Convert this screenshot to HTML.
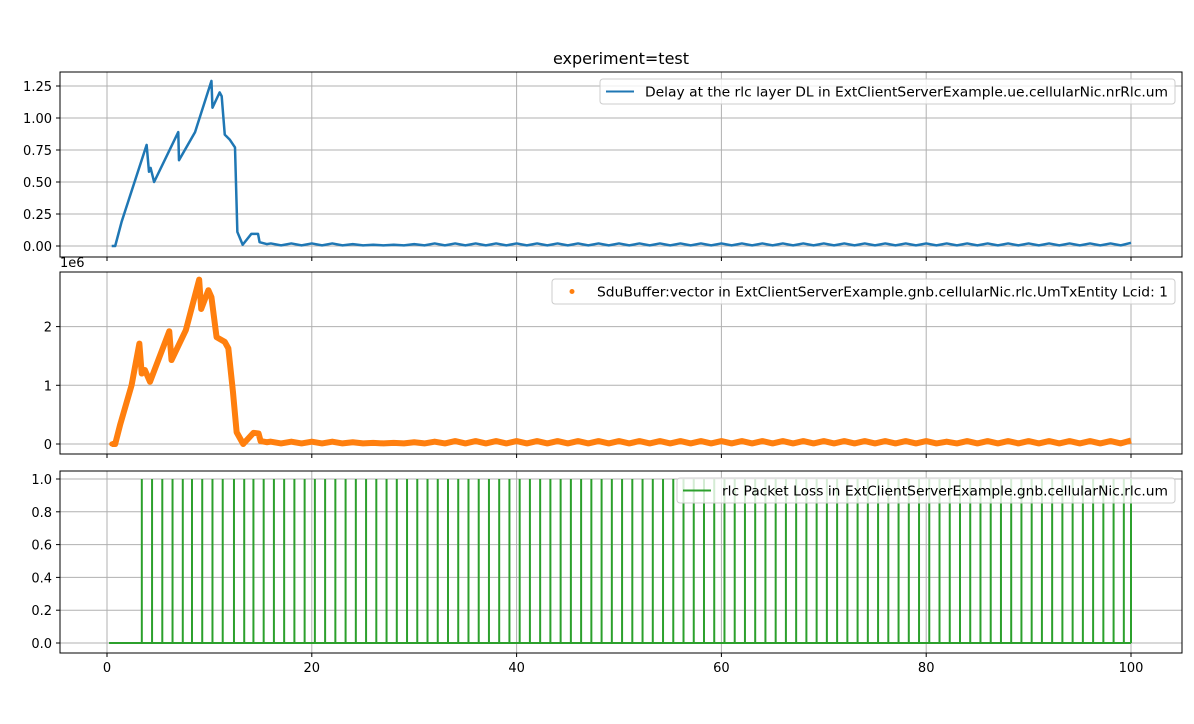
<!DOCTYPE html>
<html><head><meta charset="utf-8"><style>
body{margin:0;background:#fff}
svg{display:block;font-family:"DejaVu Sans","Liberation Sans",sans-serif}
</style></head><body>
<svg id="c" width="1194" height="724" xmlns="http://www.w3.org/2000/svg">
<rect width="1194" height="724" fill="#fff"/>
<text x="621" y="64" font-size="16" text-anchor="middle">experiment=test</text>
</svg>
<script>
// ---- data ----
const delayT = [0.46,0.8,1.43,3.87,4.1,4.26,4.6,6.96,7.03,8.6,10.2,10.3,11.0,11.2,11.5,12.0,12.5,12.73,13.25,14.1,14.75,14.9,15.6];
const delayV = [0,0,0.19,0.79,0.58,0.61,0.50,0.89,0.67,0.89,1.29,1.08,1.2,1.17,0.87,0.83,0.77,0.11,0.01,0.095,0.095,0.03,0.015];
const tailT = [16,17,18,19,20,21,22,23,24,25,26,27,28,29,30,31,32,33,34,35,36,37,38,39,40,41,42,43,44,45,46,47,48,49,50,51,52,53,54,55,56,57,58,59,60,61,62,63,64,65,66,67,68,69,70,71,72,73,74,75,76,77,78,79,80,81,82,83,84,85,86,87,88,89,90,91,92,93,94,95,96,97,98,99,100];
const delayTail = [0.02,0.005,0.02,0.005,0.02,0.005,0.02,0.005,0.015,0.005,0.01,0.005,0.01,0.005,0.015,0.005,0.02,0.005,0.02,0.005,0.02,0.005,0.02,0.005,0.02,0.005,0.02,0.005,0.02,0.005,0.02,0.005,0.02,0.005,0.02,0.005,0.02,0.005,0.02,0.005,0.02,0.005,0.02,0.005,0.02,0.005,0.02,0.005,0.02,0.005,0.02,0.005,0.02,0.005,0.02,0.005,0.02,0.005,0.02,0.005,0.02,0.005,0.02,0.005,0.02,0.005,0.02,0.005,0.02,0.005,0.02,0.005,0.02,0.005,0.02,0.005,0.02,0.005,0.02,0.005,0.02,0.005,0.02,0.005,0.025];
const sduT = [0.46,0.8,1.27,2.4,3.16,3.39,3.7,4.2,6.08,6.3,7.7,9.0,9.2,9.9,10.2,10.7,11.5,11.85,12.3,12.66,13.3,14.3,14.8,15.0,15.6];
const sduV = [0,0,0.32,1.0,1.71,1.2,1.26,1.06,1.92,1.43,1.94,2.8,2.3,2.62,2.5,1.82,1.74,1.63,0.89,0.2,0,0.19,0.18,0.05,0.03];
const sduTail = [0.04,0.01,0.04,0.01,0.04,0.01,0.04,0.01,0.03,0.01,0.02,0.01,0.02,0.01,0.03,0.01,0.04,0.01,0.05,0.01,0.05,0.01,0.05,0.01,0.05,0.01,0.05,0.01,0.05,0.01,0.05,0.01,0.05,0.01,0.05,0.01,0.05,0.01,0.05,0.01,0.05,0.01,0.05,0.01,0.05,0.01,0.05,0.01,0.05,0.01,0.05,0.01,0.05,0.01,0.05,0.01,0.05,0.01,0.05,0.01,0.05,0.01,0.05,0.01,0.05,0.01,0.04,0.01,0.05,0.01,0.05,0.01,0.05,0.01,0.05,0.01,0.05,0.01,0.05,0.01,0.05,0.01,0.05,0.01,0.06];
const lossT = [3.4,4.4,5.4,6.4,7.4,8.3,9.3,10.3,11.3,12.4,13.4,14.3,15.3,16.3,17.3,18.3,19.3,20.3,21.3,22.3,23.3,24.3,25.3,26.3,27.3,28.3,29.3,30.3,31.3,32.3,33.3,34.3,35.3,36.3,37.3,38.3,39.3,40.3,41.3,42.3,43.3,44.3,45.3,46.3,47.3,48.3,49.3,50.3,51.3,52.3,53.3,54.3,55.3,56.3,57.3,58.3,59.3,60.3,61.3,62.3,63.3,64.3,65.3,66.3,67.3,68.3,69.3,70.3,71.3,72.3,73.3,74.3,75.3,76.3,77.3,78.3,79.3,80.3,81.3,82.3,83.3,84.3,85.3,86.3,87.3,88.3,89.3,90.3,91.3,92.3,93.3,94.3,95.3,96.3,97.3,98.3,99.3,100];
const xTicks = [0,20,40,60,80,100];
const y1Ticks = [0,0.25,0.5,0.75,1.0,1.25];
const y2Ticks = [0,1,2];
const y3Ticks = [0,0.2,0.4,0.6,0.8,1.0];

// ---- layout ----
const svg = document.getElementById('c');
const NS = 'http://www.w3.org/2000/svg';
const L = 60, R = 1182;
const X = t => 107 + t * 10.24;
function mk(tag, attrs, parent){const e=document.createElementNS(NS,tag);for(const k in attrs)e.setAttribute(k,attrs[k]);(parent||svg).appendChild(e);return e;}
const panels = [
 {top:72,bot:257,y:v=>246-v*128,ticks:y1Ticks,fmt:v=>v.toFixed(2),name:'delay'},
 {top:272,bot:454,y:v=>444-v*58.7,ticks:y2Ticks,fmt:v=>String(v),name:'sdu-buffer'},
 {top:471,bot:653,y:v=>643-v*164,ticks:y3Ticks,fmt:v=>v.toFixed(1),name:'packet-loss'}
];
panels.forEach((p,i)=>{
 const g = mk('g',{});
 
 
 p.g = g;
 xTicks.forEach(t=>{
  const l = mk('line',{x1:X(t),x2:X(t),y1:p.top,y2:p.bot,stroke:'#b0b0b0','stroke-width':1},g);
  
  
  mk('line',{x1:X(t),x2:X(t),y1:p.bot,y2:p.bot+4,stroke:'#000'},g);
  if(i===2){
   const tx = mk('text',{x:X(t),y:p.bot+19,'font-size':13,'text-anchor':'middle'},g);
   tx.textContent = t;
   
   
  }
 });
 p.ticks.forEach(v=>{
  const y=p.y(v);
  const l = mk('line',{x1:L,x2:R,y1:y,y2:y,stroke:'#b0b0b0','stroke-width':1},g);
  
  
  mk('line',{x1:L-4,x2:L,y1:y,y2:y,stroke:'#000'},g);
  const tx = mk('text',{x:L-8,y:y+5,'font-size':13,'text-anchor':'end'},g);
  tx.textContent = p.fmt(v);
  
  
 });
});
// delay line
{
 const p=panels[0];
 const pts = delayT.map((t,i)=>X(t)+','+p.y(delayV[i])).concat(tailT.map((t,i)=>X(t)+','+p.y(delayTail[i])));
 const pl = mk('polyline',{points:pts.join(' '),fill:'none',stroke:'#1f77b4','stroke-width':2.5,'stroke-linejoin':'round'},p.g);
 
 
}
// sdu points
{
 const p=panels[1];
 const pts = sduT.map((t,i)=>X(t)+','+p.y(sduV[i])).concat(tailT.map((t,i)=>X(t)+','+p.y(sduTail[i])));
 const pl = mk('polyline',{points:pts.join(' '),fill:'none',stroke:'#ff7f0e','stroke-width':6,'stroke-linejoin':'round'},p.g);
 
 
 sduT.forEach((t,i)=>{
  const c = mk('circle',{cx:X(t),cy:p.y(sduV[i]),r:2.5,fill:'#ff7f0e'},p.g);
  
  
 });
}
// packet loss
{
 const p=panels[2];
 const base = mk('line',{x1:X(0.2),x2:X(100),y1:p.y(0),y2:p.y(0),stroke:'#2ca02c','stroke-width':2},p.g);
 
 
 lossT.forEach(t=>{
  const l = mk('line',{x1:X(t),x2:X(t),y1:p.y(0),y2:p.y(1),stroke:'#2ca02c','stroke-width':2},p.g);
  
  
 });
}
// frames
panels.forEach(p=>{
 const r = mk('rect',{x:L,y:p.top,width:R-L,height:p.bot-p.top,fill:'none',stroke:'#000','stroke-width':1},p.g);
 
 
});
// 1e6
{
 const t = mk('text',{x:60,y:267,'font-size':13});
 t.textContent='1e6';
 
 
}
// legends
const legends = [
 {x:600,y:79,w:575,label:'Delay at the rlc layer DL in ExtClientServerExample.ue.cellularNic.nrRlc.um',col:'#1f77b4',type:'line'},
 {x:552,y:279,w:623,label:'SduBuffer:vector in ExtClientServerExample.gnb.cellularNic.rlc.UmTxEntity Lcid: 1',col:'#ff7f0e',type:'dot'},
 {x:677,y:478,w:498,label:'rlc Packet Loss in ExtClientServerExample.gnb.cellularNic.rlc.um',col:'#2ca02c',type:'line'}
];
legends.forEach(lg=>{
 const g = mk('g',{});
 
 
 mk('rect',{x:lg.x,y:lg.y,width:lg.w,height:25,rx:3,fill:'#fff','fill-opacity':0.8,stroke:'#ccc'},g);
 if(lg.type==='line') mk('line',{x1:lg.x+6,x2:lg.x+34,y1:lg.y+12.5,y2:lg.y+12.5,stroke:lg.col,'stroke-width':2},g);
 else mk('circle',{cx:lg.x+20,cy:lg.y+12.5,r:2.5,fill:lg.col},g);
 const t = mk('text',{x:lg.x+45,y:lg.y+17.5,'font-size':13,textLength:lg.w-52,lengthAdjust:'spacingAndGlyphs'},g);
 t.textContent = lg.label;
 
 
});
</script>
</body></html>
